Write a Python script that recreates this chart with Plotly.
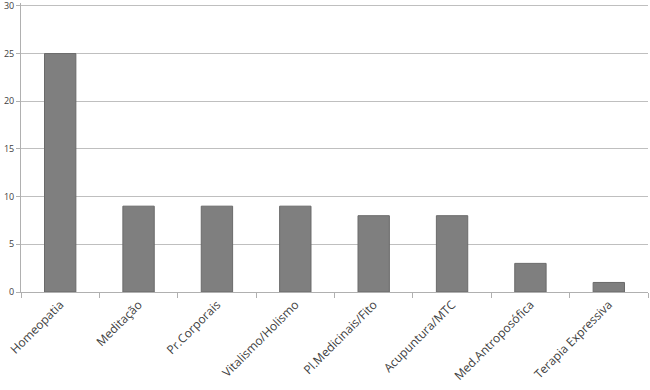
import plotly.graph_objects as go

categories = ["Homeopatia", "Meditação", "Pr.Corporais", "Vitalismo/Holismo",
              "Pl.Medicinais/Fito", "Acupuntura/MTC", "Med.Antroposófica", "Terapia Expressiva"]
values = [25, 9, 9, 9, 8, 8, 3, 1]
y_ticks = [0, 5, 10, 15, 20, 25, 30]

fig = go.Figure(go.Bar(
    x=categories, y=values,
    marker=dict(color="#7f7f7f", line=dict(color="#6a6a6a", width=1)),
    width=0.4,
))

fig.update_layout(
    width=650, height=390,
    margin=dict(l=21, r=2, t=3, b=98),
    plot_bgcolor="white", paper_bgcolor="white",
    showlegend=False,
    font=dict(family="Open Sans, Liberation Sans, sans-serif", color="#404040"),
)
fig.update_xaxes(
    tickangle=-45, tickfont=dict(size=12),
    showline=True, linecolor="#b0b0b0", linewidth=1,
    ticks="outside", ticklen=5, tickcolor="#b0b0b0",
    tickson="boundaries", showgrid=False, automargin=False,
)
fig.update_yaxes(
    range=[0, 30.3], tickvals=y_ticks, tickfont=dict(size=9),
    showline=True, linecolor="#b0b0b0", linewidth=1,
    ticks="outside", ticklen=4, tickcolor="#b0b0b0",
    showgrid=True, gridcolor="#bfbfbf", gridwidth=1, zeroline=False,
    automargin=False, ticklabeloverflow="allow",
)

fig.write_html("out.html", config={"displayModeBar": False},
               post_script="document.body.style.margin='0';document.body.style.padding='0';")
